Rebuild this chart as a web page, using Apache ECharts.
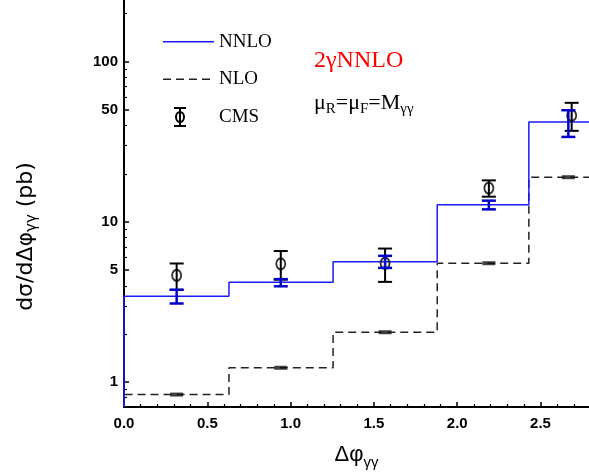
<!DOCTYPE html>
<html><head><meta charset="utf-8">
<script src="https://cdn.jsdelivr.net/npm/echarts@6/dist/echarts.min.js"></script>
<style>html,body{margin:0;padding:0;background:#fff}#c{width:589px;height:475px}</style>
</head><body><div id="c"></div>
<script>
// ---- data ----
const binEdges   = [0, 0.63, 1.255, 1.88, 2.43, 2.80];
const nnlo       = [3.44, 4.20, 5.64, 12.8, 42.1];
const nnloLow    = [3.10, 3.97, 5.17, 12.0, 34.0];
const nnloHigh   = [3.78, 4.40, 6.15, 13.6, 49.9];
const nlo        = [0.837, 1.23, 2.05, 5.53, 19.05];
const theoryX    = [0.316, 0.941, 1.567, 2.19, 2.667];
const cmsX       = [0.316, 0.941, 1.567, 2.19, 2.687];
const cms        = [4.64, 5.48, 5.53, 16.3, 46.3];
const cmsErr     = [0.87, 1.11, 1.30, 1.9, 9.2];
const xTickLabels = [0, 0.5, 1.0, 1.5, 2.0, 2.5];
const xMinorTicks = [0.1,0.2,0.3,0.4,0.6,0.7,0.8,0.9,1.1,1.2,1.3,1.4,1.6,1.7,1.8,1.9,2.1,2.2,2.3,2.4,2.6,2.7];
const yTickLabels = [1, 5, 10, 50, 100];
const yMinorTicks = [0.8,0.9,2,3,4,6,7,8,9,20,30,40,60,70,80,90,200];

const X_MIN = 0, X_MAX = 2.791, Y_MIN = 0.70, Y_MAX = 243.4;

function stepData(vals) {
  const d = [[binEdges[0], Y_MIN]];
  vals.forEach((v, i) => { d.push([binEdges[i], v]); d.push([binEdges[i + 1], v]); });
  return d;
}
function errBar(color, lw, capW) {
  return function (params, api) {
    const x = api.value(0), lo = api.value(1), hi = api.value(2);
    const a = api.coord([x, lo]), b = api.coord([x, hi]);
    const st = { stroke: color, lineWidth: lw };
    return { type: 'group', children: [
      { type: 'line', shape: { x1: a[0], y1: a[1], x2: b[0], y2: b[1] }, style: st },
      { type: 'line', shape: { x1: a[0] - capW / 2, y1: a[1], x2: a[0] + capW / 2, y2: a[1] }, style: st },
      { type: 'line', shape: { x1: b[0] - capW / 2, y1: b[1], x2: b[0] + capW / 2, y2: b[1] }, style: st }
    ]};
  };
}

const tickFont = { fontFamily: 'Liberation Sans', fontWeight: 'bold', fontSize: 15, color: '#000' };
const chart = echarts.init(document.getElementById('c'), null, { renderer: 'canvas' });
chart.setOption({
  animation: false,
  backgroundColor: '#fff',
  grid: { left: 124, right: 0, top: 0, bottom: 65, containLabel: false },
  legend: {
    orient: 'vertical', left: 157, top: 26, itemWidth: 51, itemHeight: 20, itemGap: 16,
    selectedMode: false,
    textStyle: { fontFamily: 'Liberation Serif', fontSize: 19, color: '#000' },
    data: [
      { name: 'NNLO', icon: 'path://M0,0 M51,20 M0,10 L51,10',
        itemStyle: { color: 'rgba(0,0,0,0)', borderColor: '#1a1aff', borderWidth: 1.5 } },
      { name: 'NLO', icon: 'path://M0,0 M51,20 M0,10 L51,10',
        itemStyle: { color: 'rgba(0,0,0,0)', borderColor: '#222', borderWidth: 1.5, borderType: [8, 5] } },
      { name: 'CMS', icon: 'path://M0,0 M51,20 M11,1 L23,1 M17,1 L17,19 M11,19 L23,19 M13,10 A4,5 0 1 1 21,10 A4,5 0 1 1 13,10',
        itemStyle: { color: 'rgba(0,0,0,0)', borderColor: '#000', borderWidth: 2 } }
    ]
  },
  xAxis: [{
    type: 'value', min: X_MIN, max: X_MAX, position: 'bottom',
    name: '{a|Δφ}{s|γγ}', nameLocation: 'middle', nameGap: 33,
    nameTextStyle: { rich: {
      a: { fontFamily: 'Liberation Sans', fontSize: 22, color: '#000', verticalAlign: 'middle', lineHeight: 30 },
      s: { fontFamily: 'Liberation Sans', fontSize: 15, color: '#000', verticalAlign: 'bottom', lineHeight: 30 } } },
    axisLine: { show: true, onZero: false, lineStyle: { color: '#000', width: 2 } },
    axisTick: { show: true, inside: true, length: 5, customValues: xTickLabels, lineStyle: { color: '#000', width: 1.5 } },
    axisLabel: { show: true, margin: 9, customValues: xTickLabels, formatter: v => Number(v).toFixed(1), ...tickFont },
    splitLine: { show: false }
  }, {
    type: 'value', min: X_MIN, max: X_MAX, position: 'bottom',
    axisLine: { show: false },
    axisTick: { show: true, inside: true, length: 3, customValues: xMinorTicks, lineStyle: { color: '#000', width: 1.2 } },
    axisLabel: { show: false },
    splitLine: { show: false }
  }],
  yAxis: [{
    type: 'log', logBase: 10, min: Y_MIN, max: Y_MAX, position: 'left',
    name: '{a|dσ/dΔφ}{s|γγ}{a| (pb)}', nameLocation: 'middle', nameGap: 84, nameRotate: 90,
    nameTextStyle: { padding: [0, 66, 0, 0], rich: {
      a: { fontFamily: 'DejaVu Sans', fontSize: 22, color: '#000', verticalAlign: 'middle', lineHeight: 28 },
      s: { fontFamily: 'DejaVu Sans', fontSize: 15, color: '#000', verticalAlign: 'bottom', lineHeight: 28 } } },
    axisLine: { show: true, onZero: false, lineStyle: { color: '#000', width: 2 } },
    axisTick: { show: true, inside: true, length: 5, customValues: yTickLabels, lineStyle: { color: '#000', width: 1.5 } },
    axisLabel: { show: true, margin: 6, customValues: yTickLabels, formatter: v => String(+Number(v).toPrecision(3)), ...tickFont },
    splitLine: { show: false }, minorTick: { show: false }
  }, {
    type: 'log', logBase: 10, min: Y_MIN, max: Y_MAX, position: 'left',
    axisLine: { show: false },
    axisTick: { show: true, inside: true, length: 3, customValues: yMinorTicks, lineStyle: { color: '#000', width: 1.2 } },
    axisLabel: { show: false },
    splitLine: { show: false }
  }],
  graphic: [
    { type: 'text', left: 314, top: 49, style: { text: '2γNNLO', fill: '#ff0000', font: '24px "Liberation Serif"' } },
    { type: 'text', left: 314, top: 92, style: {
        text: '{m|μ}{s|R}{m|=μ}{s|F}{m|=M}{s|γγ}',
        rich: {
          m: { fontFamily: 'Liberation Serif', fontSize: 22, fill: '#000', verticalAlign: 'middle', lineHeight: 28 },
          s: { fontFamily: 'Liberation Serif', fontSize: 15, fill: '#000', verticalAlign: 'bottom', lineHeight: 28 }
        } } }
  ],
  series: [
    { name: 'NLO', type: 'line', xAxisIndex: 0, yAxisIndex: 0, data: stepData(nlo), symbol: 'none', clip: true,
      lineStyle: { color: '#222', width: 1.5, type: [8, 5] }, itemStyle: { color: '#222' }, z: 2 },
    { name: 'NLO marks', type: 'scatter', xAxisIndex: 0, yAxisIndex: 0, data: theoryX.map((x, i) => [x, nlo[i]]),
      symbol: 'rect', symbolSize: [13, 4], itemStyle: { color: '#111' }, z: 3 },
    { name: 'NNLO', type: 'line', xAxisIndex: 0, yAxisIndex: 0, data: stepData(nnlo), symbol: 'none', clip: true,
      lineStyle: { color: '#1a1aff', width: 1.5 }, itemStyle: { color: '#1a1aff' }, z: 4 },
    { name: 'CMS', type: 'custom', xAxisIndex: 0, yAxisIndex: 0, renderItem: errBar('#000', 2, 14),
      data: cmsX.map((x, i) => [x, cms[i] - cmsErr[i], cms[i] + cmsErr[i]]), itemStyle: { color: '#000' }, z: 5 },
    { name: 'CMS points', type: 'scatter', xAxisIndex: 0, yAxisIndex: 0, data: cmsX.map((x, i) => [x, cms[i]]),
      symbol: 'circle', symbolSize: [9, 11], itemStyle: { color: 'rgba(0,0,0,0)', borderColor: '#000', borderWidth: 2 }, z: 6 },
    { name: 'NNLO err', type: 'custom', xAxisIndex: 0, yAxisIndex: 0, renderItem: errBar('#0000c8', 2.5, 14),
      data: theoryX.map((x, i) => [x, nnloLow[i], nnloHigh[i]]), z: 7 }
  ]
});
</script></body></html>
